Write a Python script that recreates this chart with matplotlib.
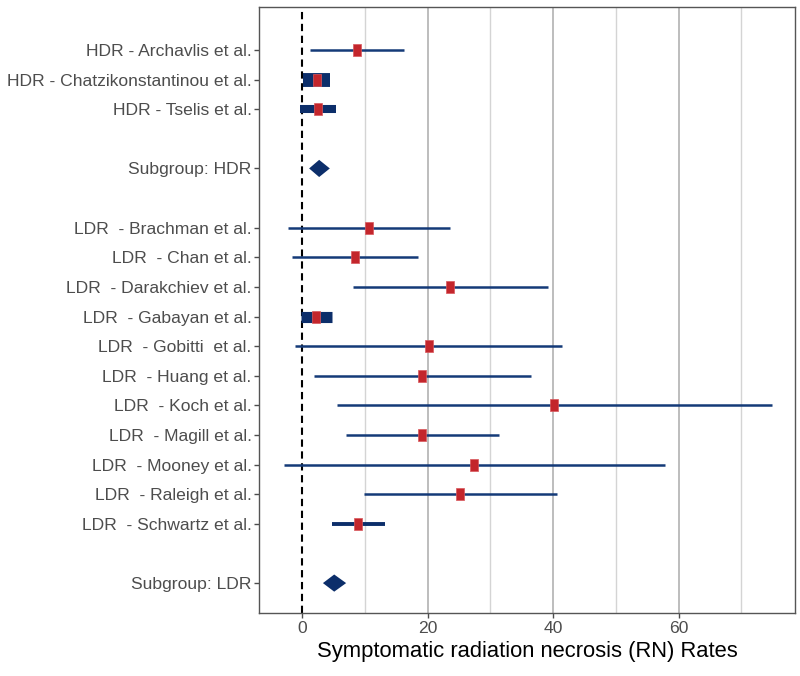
import numpy as np
import matplotlib
matplotlib.use("Agg")
import matplotlib.pyplot as plt
from matplotlib.path import Path

plt.rcParams["font.family"] = ["Liberation Sans", "DejaVu Sans"]

labels = [
    "HDR - Archavlis et al.",
    "HDR - Chatzikonstantinou et al.",
    "HDR - Tselis et al.",
    "",
    "Subgroup: HDR",
    "",
    "LDR  - Brachman et al.",
    "LDR  - Chan et al.",
    "LDR  - Darakchiev et al.",
    "LDR  - Gabayan et al.",
    "LDR  - Gobitti  et al.",
    "LDR  - Huang et al.",
    "LDR  - Koch et al.",
    "LDR  - Magill et al.",
    "LDR  - Mooney et al.",
    "LDR  - Raleigh et al.",
    "LDR  - Schwartz et al.",
    "",
    "Subgroup: LDR",
]

# individual studies: row, estimate, lower, upper, weight (line width)
study_rows = [0, 1, 2, 6, 7, 8, 9, 10, 11, 12, 13, 14, 15, 16]
study_est = [8.8, 2.3, 2.5, 10.6, 8.4, 23.6, 2.2, 20.2, 19.1, 40.1, 19.1, 27.4, 25.2, 8.9]
study_lo = [1.3, 0.2, -0.3, -2.2, -1.6, 8.1, -0.2, -1.1, 1.8, 5.5, 6.9, -2.9, 9.8, 4.7]
study_hi = [16.3, 4.4, 5.4, 23.6, 18.5, 39.2, 4.7, 41.4, 36.5, 74.9, 31.4, 57.8, 40.6, 13.2]
study_w = [1.8, 10.0, 5.8, 1.8, 1.8, 1.8, 8.0, 1.8, 1.8, 1.8, 1.8, 1.8, 1.8, 2.8]

# subgroup summaries
sub_rows = [4, 18]
sub_est = [2.7, 5.1]
sub_lo = [1.1, 3.3]
sub_hi = [4.4, 7.0]

navy = "#143a78"
dark_navy = "#0c2e6a"
red = "#c3262c"

fig = plt.figure(figsize=(8, 6.76), dpi=100)
ax = fig.add_axes([0.324, 0.0932, 0.67, 0.8964])

ax.set_xlim(-6.86, 78.6)
ax.set_ylim(19.01, -1.45)

# grid
for gx in [10, 30, 50, 70]:
    ax.axvline(gx, color="#d4d4d4", lw=1.0, zorder=0)
for gx in [20, 40, 60]:
    ax.axvline(gx, color="#b8b8b8", lw=1.3, zorder=0)
ax.axvline(0, color="black", lw=1.5, linestyle=(0, (3.5, 2.2)), zorder=1)

rect = Path([(-2, -3), (2, -3), (2, 3), (-2, 3), (-2, -3)],
            [Path.MOVETO, Path.LINETO, Path.LINETO, Path.LINETO, Path.CLOSEPOLY])

for r, e, lo, hi, w in zip(study_rows, study_est, study_lo, study_hi, study_w):
    col = navy if w < 2.5 else dark_navy
    ax.plot([lo, hi], [r, r], color=col, lw=w, solid_capstyle="butt", zorder=2)
    ax.plot(e, r, marker=rect, markersize=8.5, color=red,
            markeredgecolor="#d9585c", markeredgewidth=0.5, zorder=3)

for r, e, lo, hi in zip(sub_rows, sub_est, sub_lo, sub_hi):
    h = 0.29
    ax.fill([lo, e, hi, e], [r, r - h, r, r + h], color=dark_navy, zorder=3, lw=0)

ticked = [i for i, s in enumerate(labels) if s]
ax.set_yticks(ticked)
ax.set_yticklabels([labels[i] for i in ticked], fontsize=12.6, color="#4d4d4d")
ax.set_xticks([0, 20, 40, 60])
ax.set_xticklabels(["0", "20", "40", "60"], fontsize=12.6, color="#4d4d4d")
ax.tick_params(axis="both", length=3.5, width=1, color="#4d4d4d", pad=2)
ax.set_xlabel("Symptomatic radiation necrosis (RN) Rates", fontsize=15.8, labelpad=4)

for s in ax.spines.values():
    s.set_color("#555555")
    s.set_linewidth(1.0)

fig.savefig("out.png", dpi=100)
